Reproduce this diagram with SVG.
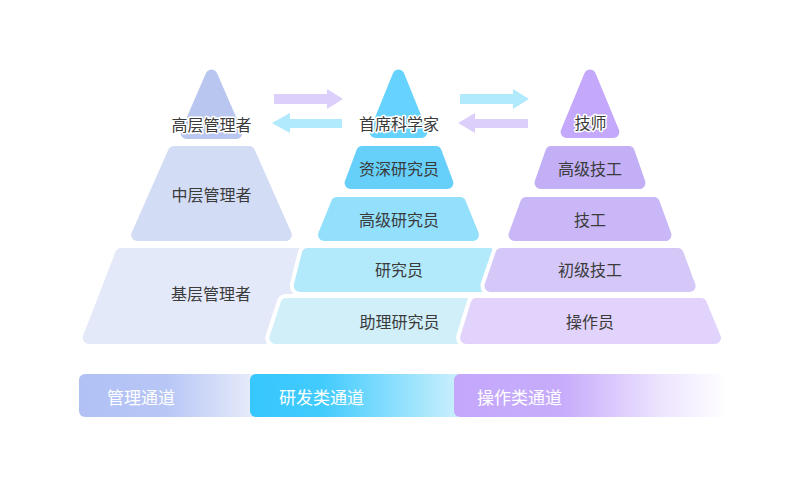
<svg xmlns="http://www.w3.org/2000/svg" width="800" height="496" viewBox="0 0 800 496">
<style>
.halo{fill:none;stroke:#fff;stroke-width:20;stroke-linejoin:round}
.sh{stroke-width:12;stroke-linejoin:round}
.t{font-family:"Noto Sans CJK SC","Noto Sans",sans-serif;font-size:16px;fill:#3b3b3b;text-anchor:middle}
.th{paint-order:stroke;stroke:#fff;stroke-width:3;stroke-linejoin:round}
.bt{font-family:"Noto Sans CJK SC","Noto Sans",sans-serif;font-size:17px;fill:#fff}
.l1{fill:#b9c6ef;stroke:#b9c6ef}.l2{fill:#d3dcf5;stroke:#d3dcf5}.l3{fill:#e3e9f8;stroke:#e3e9f8}
.m1{fill:#65d3fd;stroke:#65d3fd}.m2{fill:#66d0fa;stroke:#66d0fa}.m3{fill:#92e0fc;stroke:#92e0fc}.m4{fill:#b2eafc;stroke:#b2eafc}.m5{fill:#d0eff9;stroke:#d0eff9}
.r1{fill:#c3a8fb;stroke:#c3a8fb}.r2{fill:#c2aff6;stroke:#c2aff6}.r3{fill:#c9b7f7;stroke:#c9b7f7}.r4{fill:#d5c8f8;stroke:#d5c8f8}.r5{fill:#e1d3fc;stroke:#e1d3fc}
.ap{fill:#dccffc}.ab{fill:#b1e9fd}
</style>
<defs>
<linearGradient id="g1" gradientUnits="userSpaceOnUse" x1="79" y1="0" x2="252" y2="0">
<stop offset="0" stop-color="#b1c1f5"/><stop offset="0.5" stop-color="#b7c6f5"/><stop offset="1" stop-color="#e6ebfa"/>
</linearGradient>
<linearGradient id="g2" gradientUnits="userSpaceOnUse" x1="250" y1="0" x2="456" y2="0">
<stop offset="0" stop-color="#36c7fd"/><stop offset="0.35" stop-color="#42cbfd"/><stop offset="1" stop-color="#c8effd"/>
</linearGradient>
<linearGradient id="g3" gradientUnits="userSpaceOnUse" x1="454" y1="0" x2="727" y2="0">
<stop offset="0" stop-color="#c4a7fb"/><stop offset="0.4" stop-color="#c7acfb"/><stop offset="0.75" stop-color="#ece3fe"/><stop offset="1" stop-color="#ffffff"/>
</linearGradient>
</defs>
<rect width="800" height="496" fill="#fff"/>

<g id="connectors">
<polygon class="ap" points="274,94 327,94 327,89 343,99 327,109 327,104 274,104"/>
<polygon class="ab" points="342,119 290,119 290,113 272,123 290,133 290,128 342,128"/>
<polygon class="ab" points="460,94 513,94 513,89 529,99 513,109 513,104 460,104"/>
<polygon class="ap" points="528,119 475,119 475,113 458,123 475,133 475,128 528,128"/>
</g>

<g id="n-gaoceng">
<polygon class="halo" points="211.5,75.5 236.4,133 186.6,133"/>
<polygon class="sh l1" points="211.5,75.5 236.4,133 186.6,133"/>
<text class="t th" x="211.5" y="131">高层管理者</text>
</g>
<g id="n-zhongceng">
<polygon class="halo" points="173.9,152 249.1,152 285.8,235 137.2,235"/>
<polygon class="sh l2" points="173.9,152 249.1,152 285.8,235 137.2,235"/>
<text class="t" x="211.5" y="201">中层管理者</text>
</g>
<g id="n-jiceng">
<polygon class="halo" points="121.1,254 301.9,254 334.3,338 88.7,338"/>
<polygon class="sh l3" points="121.1,254 301.9,254 334.3,338 88.7,338"/>
<text class="t" x="211" y="300">基层管理者</text>
</g>

<g id="n-shouxi">
<polygon class="halo" points="398.5,75.5 421.4,132 375.6,132"/>
<polygon class="sh m1" points="398.5,75.5 421.4,132 375.6,132"/>
<text class="t th" x="399" y="130">首席科学家</text>
</g>
<g id="n-zishen">
<polygon class="halo" points="362.2,152 435.8,152 447.4,183 350.6,183"/>
<polygon class="sh m2" points="362.2,152 435.8,152 447.4,183 350.6,183"/>
<text class="t" x="399" y="175">资深研究员</text>
</g>
<g id="n-gaojiyanjiu">
<polygon class="halo" points="337,203 460,203 473,235 324,235"/>
<polygon class="sh m3" points="337,203 460,203 473,235 324,235"/>
<text class="t" x="399" y="226">高级研究员</text>
</g>
<g id="n-yanjiuyuan">
<polygon class="halo" points="307.7,254 489.3,254 497.3,286 299.7,286"/>
<polygon class="sh m4" points="307.7,254 489.3,254 497.3,286 299.7,286"/>
<text class="t" x="399" y="276">研究员</text>
</g>
<g id="n-zhuli">
<polygon class="halo" points="286.4,304 510.6,304 521.7,338 275.3,338"/>
<polygon class="sh m5" points="286.4,304 510.6,304 521.7,338 275.3,338"/>
<text class="t" x="399.5" y="328">助理研究员</text>
</g>

<g id="n-jishi">
<polygon class="halo" points="590,75.5 613.4,132 566.6,132"/>
<polygon class="sh r1" points="590,75.5 613.4,132 566.6,132"/>
<text class="t th" x="590.5" y="129">技师</text>
</g>
<g id="n-gaojijigong">
<polygon class="halo" points="551.3,152 628.7,152 639.5,183 540.5,183"/>
<polygon class="sh r2" points="551.3,152 628.7,152 639.5,183 540.5,183"/>
<text class="t" x="590" y="175">高级技工</text>
</g>
<g id="n-jigong">
<polygon class="halo" points="526.2,203 653.8,203 665.5,235 514.5,235"/>
<polygon class="sh r3" points="526.2,203 653.8,203 665.5,235 514.5,235"/>
<text class="t" x="590" y="226">技工</text>
</g>
<g id="n-chujijigong">
<polygon class="halo" points="501.3,254 677.7,254 689.6,286 490.4,286"/>
<polygon class="sh r4" points="501.3,254 677.7,254 689.6,286 490.4,286"/>
<text class="t" x="590" y="276">初级技工</text>
</g>
<g id="n-caozuoyuan">
<polygon class="halo" points="476.5,304 701,304 715,338 466.1,338"/>
<polygon class="sh r5" points="476.5,304 701,304 715,338 466.1,338"/>
<text class="t" x="590" y="328">操作员</text>
</g>

<g id="bar-guanli">
<rect x="79" y="374" width="190" height="43" rx="6" fill="url(#g1)"/>
<text class="bt" x="107" y="404">管理通道</text>
</g>
<g id="bar-yanfa">
<rect x="250" y="374" width="215" height="43" rx="6" fill="url(#g2)"/>
<text class="bt" x="279" y="404">研发类通道</text>
</g>
<g id="bar-caozuo">
<rect x="454" y="374" width="273" height="43" rx="6" fill="url(#g3)"/>
<text class="bt" x="477" y="404">操作类通道</text>
</g>
</svg>
